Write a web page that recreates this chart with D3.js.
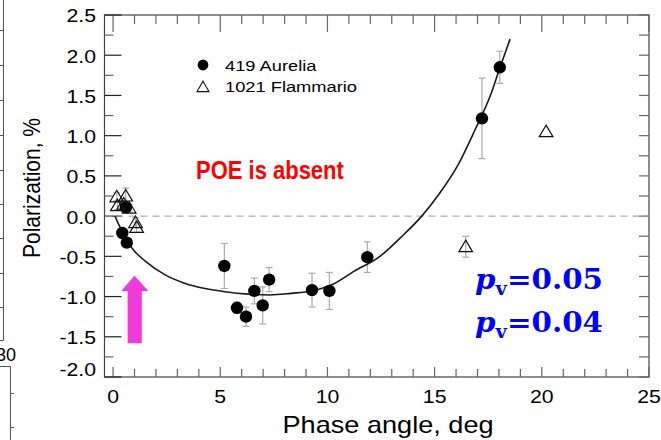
<!DOCTYPE html>
<html>
<head>
<meta charset="utf-8">
<script src="https://cdn.jsdelivr.net/npm/d3@7"></script>
<style>
  html, body { margin: 0; padding: 0; background: #fff; }
  svg { display: block; }
</style>
</head>
<body>
<svg id="chart" width="661" height="440"></svg>
<script>
// 419 Aurelia: phase angle (deg), polarization (%), error (%)
const aureliaAlpha = [0.43, 0.64, 0.6, 5.19, 5.78, 6.2, 6.59, 6.98, 7.28, 9.28, 10.09, 11.86, 17.21, 18.04];
const aureliaP     = [-0.21, -0.33, 0.11, -0.62, -1.14, -1.25, -0.93, -1.11, -0.79, -0.92, -0.93, -0.51, 1.215, 1.85];
const aureliaErr   = [0.05, 0.05, 0, 0.28, 0.07, 0.12, 0.16, 0.23, 0.15, 0.21, 0.23, 0.19, 0.5, 0.2];

// 1021 Flammario
const flamAlpha = [0.17, 0.59, 0.2, 0.5, 0.75, 1.05, 1.1, 16.45, 20.2];
const flamP     = [0.24, 0.25, 0.13, 0.15, 0.1, -0.08, -0.14, -0.38, 1.05];
const flamErr   = [0.05, 0.1, 0.05, 0.05, 0.05, 0.06, 0.06, 0.13, 0];

// Phase-curve fit through Aurelia
const fitAlpha = [0.1, 0.17, 0.45, 0.65, 0.95, 1.5, 2.43, 3.3, 4.29, 5.22, 6.3, 7.32, 8.3, 9.27, 10.3, 11.21, 12.45, 13.4, 14.4, 15.25, 16.1, 16.88, 17.6, 18.04, 18.52];
const fitP     = [0.0, -0.05, -0.2, -0.31, -0.42, -0.56, -0.73, -0.83, -0.9, -0.94, -0.97, -0.98, -0.96, -0.93, -0.84, -0.69, -0.5, -0.27, 0.0, 0.29, 0.64, 1.07, 1.5, 1.84, 2.2];

const xTickLabels = [0, 5, 10, 15, 20, 25];
const yTickLabels = [2.5, 2.0, 1.5, 1.0, 0.5, 0.0, -0.5, -1.0, -1.5, -2.0];
const legendNames = ["419 Aurelia", "1021 Flammario"];
const albedoLabels = ["0.05", "0.04"];

const svg = d3.select("#chart");
const SX = 1.18;            // horizontal stretch of lettering
const sans = "'Liberation Sans', Arial, sans-serif";

const x = d3.scaleLinear().domain([-0.4, 25]).range([104.5, 649]);
const y = d3.scaleLinear().domain([-2, 2.5]).range([377, 15]);

function label(g, px, py, txt, opts = {}) {
  const sx = opts.sx || SX;
  return g.append("text")
    .attr("transform", `translate(${px},${py}) scale(${sx},1)` + (opts.rotate ? ` rotate(${opts.rotate})` : ""))
    .attr("text-anchor", opts.anchor || "start")
    .attr("dominant-baseline", opts.baseline || "auto")
    .attr("font-family", opts.family || sans)
    .attr("font-size", opts.size || 18)
    .attr("font-weight", opts.weight || "normal")
    .attr("fill", opts.fill || "#000")
    .text(txt);
}

// neighbouring panel fragments at the left edge
const frag = svg.append("g").attr("stroke", "#555").attr("fill", "none");
frag.append("path").attr("d", "M3.5,0V340.5H0");
[30, 65, 100, 135, 170, 204, 238, 273, 307].forEach(v => frag.append("line").attr("x1", 0).attr("x2", 3.5).attr("y1", v + .5).attr("y2", v + .5));
frag.append("path").attr("d", "M0,366.5H10.5V440");
[393, 427].forEach(v => frag.append("line").attr("x1", 10.5).attr("x2", 14).attr("y1", v + .5).attr("y2", v + .5));
svg.append("text").attr("x", -4).attr("y", 361).attr("font-family", sans).attr("font-size", 18).text("30");

// frame
const plot = svg.append("g");
plot.append("rect")
  .attr("x", x(-0.4)).attr("y", y(2.5))
  .attr("width", x(25) - x(-0.4)).attr("height", y(-2) - y(2.5))
  .attr("fill", "none").attr("stroke", "#444").attr("stroke-width", 1.2);

// inward ticks on all four sides
const ticks = plot.append("g").attr("stroke", "#666").attr("stroke-width", 1.2);
d3.range(0, 26, 1).forEach(v => {
  const len = v % 5 === 0 ? 10 : 8;
  ticks.append("line").attr("x1", x(v)).attr("x2", x(v)).attr("y1", y(-2)).attr("y2", y(-2) - len);
  ticks.append("line").attr("x1", x(v)).attr("x2", x(v)).attr("y1", y(2.5)).attr("y2", y(2.5) + (v % 5 === 0 ? 17 : 9));
});
d3.range(-2, 2.51, 0.25).forEach(v => {
  const major = Math.abs(v * 2 - Math.round(v * 2)) < 1e-6;
  ticks.append("line").attr("x1", x(-0.4)).attr("x2", x(-0.4) + (major ? 17 : 9)).attr("y1", y(v)).attr("y2", y(v))
    .attr("stroke", major ? "#222" : "#666");
  ticks.append("line").attr("x1", x(25)).attr("x2", x(25) - 10).attr("y1", y(v)).attr("y2", y(v));
});

// tick labels
xTickLabels.forEach(v => label(svg, x(v), 397, String(v), { anchor: "middle", baseline: "central" }));
yTickLabels.forEach(v => label(svg, 96, y(v) + (v === -2 ? -7 : 1), v.toFixed(1), { anchor: "end", baseline: "central" }));

// axis titles
label(svg, x(12.5) + 7, 425, "Phase angle, deg", { anchor: "middle", baseline: "central", size: 23 });
label(svg, 31, 188, "Polarization, %", { anchor: "middle", baseline: "central", size: 21, rotate: -90 });

// zero line
plot.append("line")
  .attr("x1", x(-0.4)).attr("x2", x(25)).attr("y1", y(0)).attr("y2", y(0))
  .attr("stroke", "#999").attr("stroke-width", 1).attr("stroke-dasharray", "7,5");

// error bars
function errorBars(ax, ap, ae) {
  const g = plot.append("g").attr("stroke", "#aaa").attr("stroke-width", 1.2);
  ax.forEach((a, i) => {
    if (!ae[i]) return;
    const cx = x(a), y0 = y(ap[i] - ae[i]), y1 = y(ap[i] + ae[i]);
    g.append("line").attr("x1", cx).attr("x2", cx).attr("y1", y0).attr("y2", y1);
    g.append("line").attr("x1", cx - 3.5).attr("x2", cx + 3.5).attr("y1", y0).attr("y2", y0);
    g.append("line").attr("x1", cx - 3.5).attr("x2", cx + 3.5).attr("y1", y1).attr("y2", y1);
  });
}
errorBars(aureliaAlpha, aureliaP, aureliaErr);
errorBars(flamAlpha, flamP, flamErr);

// fit curve
const fitData = fitAlpha.map((a, i) => [a, fitP[i]]);
plot.append("path")
  .datum(fitData)
  .attr("d", d3.line().x(d => x(d[0])).y(d => y(d[1])).curve(d3.curveMonotoneX))
  .attr("fill", "none").attr("stroke", "#1a1a1a").attr("stroke-width", 1.6);

// Aurelia points
plot.append("g").selectAll("circle")
  .data(aureliaAlpha.map((a, i) => [a, aureliaP[i]]))
  .join("circle")
  .attr("cx", d => x(d[0])).attr("cy", d => y(d[1])).attr("r", 6.2)
  .attr("fill", "#000");

// Flammario points
const tri = "M0,-6.5L6.8,5L-6.8,5Z";
plot.append("g").selectAll("path")
  .data(flamAlpha.map((a, i) => [a, flamP[i]]))
  .join("path")
  .attr("transform", d => `translate(${x(d[0])},${y(d[1])})`)
  .attr("d", tri)
  .attr("fill", "none").attr("stroke", "#111").attr("stroke-width", 1.2);

// legend
const lg = svg.append("g");
lg.append("circle").attr("cx", 203).attr("cy", 65).attr("r", 5.4).attr("fill", "#000");
lg.append("path").attr("transform", "translate(203,87)").attr("d", "M0,-5.8L6,4.6L-6,4.6Z")
  .attr("fill", "none").attr("stroke", "#111").attr("stroke-width", 1.1);
legendNames.forEach((n, i) => label(lg, 225, 66 + i * 21, n, { baseline: "central", size: 15.5 }));

// annotation
label(svg, 196, 171, "POE is absent", { baseline: "central", size: 25, weight: "bold", fill: "#ff0000", sx: 0.88 });

// arrow
const arrowTop = y(-0.74), arrowBase = y(-0.93), arrowEnd = y(-1.58);
svg.append("path")
  .attr("d", `M${x(1.0)},${arrowTop}L${x(1.65)},${arrowBase}L${x(1.34)},${arrowBase}L${x(1.34)},${arrowEnd}L${x(0.68)},${arrowEnd}L${x(0.68)},${arrowBase}L${x(0.38)},${arrowBase}Z`)
  .attr("fill", "#f03ad9");

// albedo values
albedoLabels.forEach((v, i) => {
  const t = svg.append("text")
    .attr("x", 475).attr("y", 289 + i * 43)
    .attr("font-family", "'DejaVu Serif', 'Liberation Serif', serif")
    .attr("font-weight", "bold").attr("font-size", 27).attr("fill", "#0000ff")
    .attr("textLength", 128).attr("lengthAdjust", "spacingAndGlyphs");
  t.append("tspan").attr("font-style", "italic").text("p");
  t.append("tspan").attr("font-size", 18).attr("dy", 6).text("v");
  t.append("tspan").attr("dy", -6).text("=" + v);
});
</script>
</body>
</html>
